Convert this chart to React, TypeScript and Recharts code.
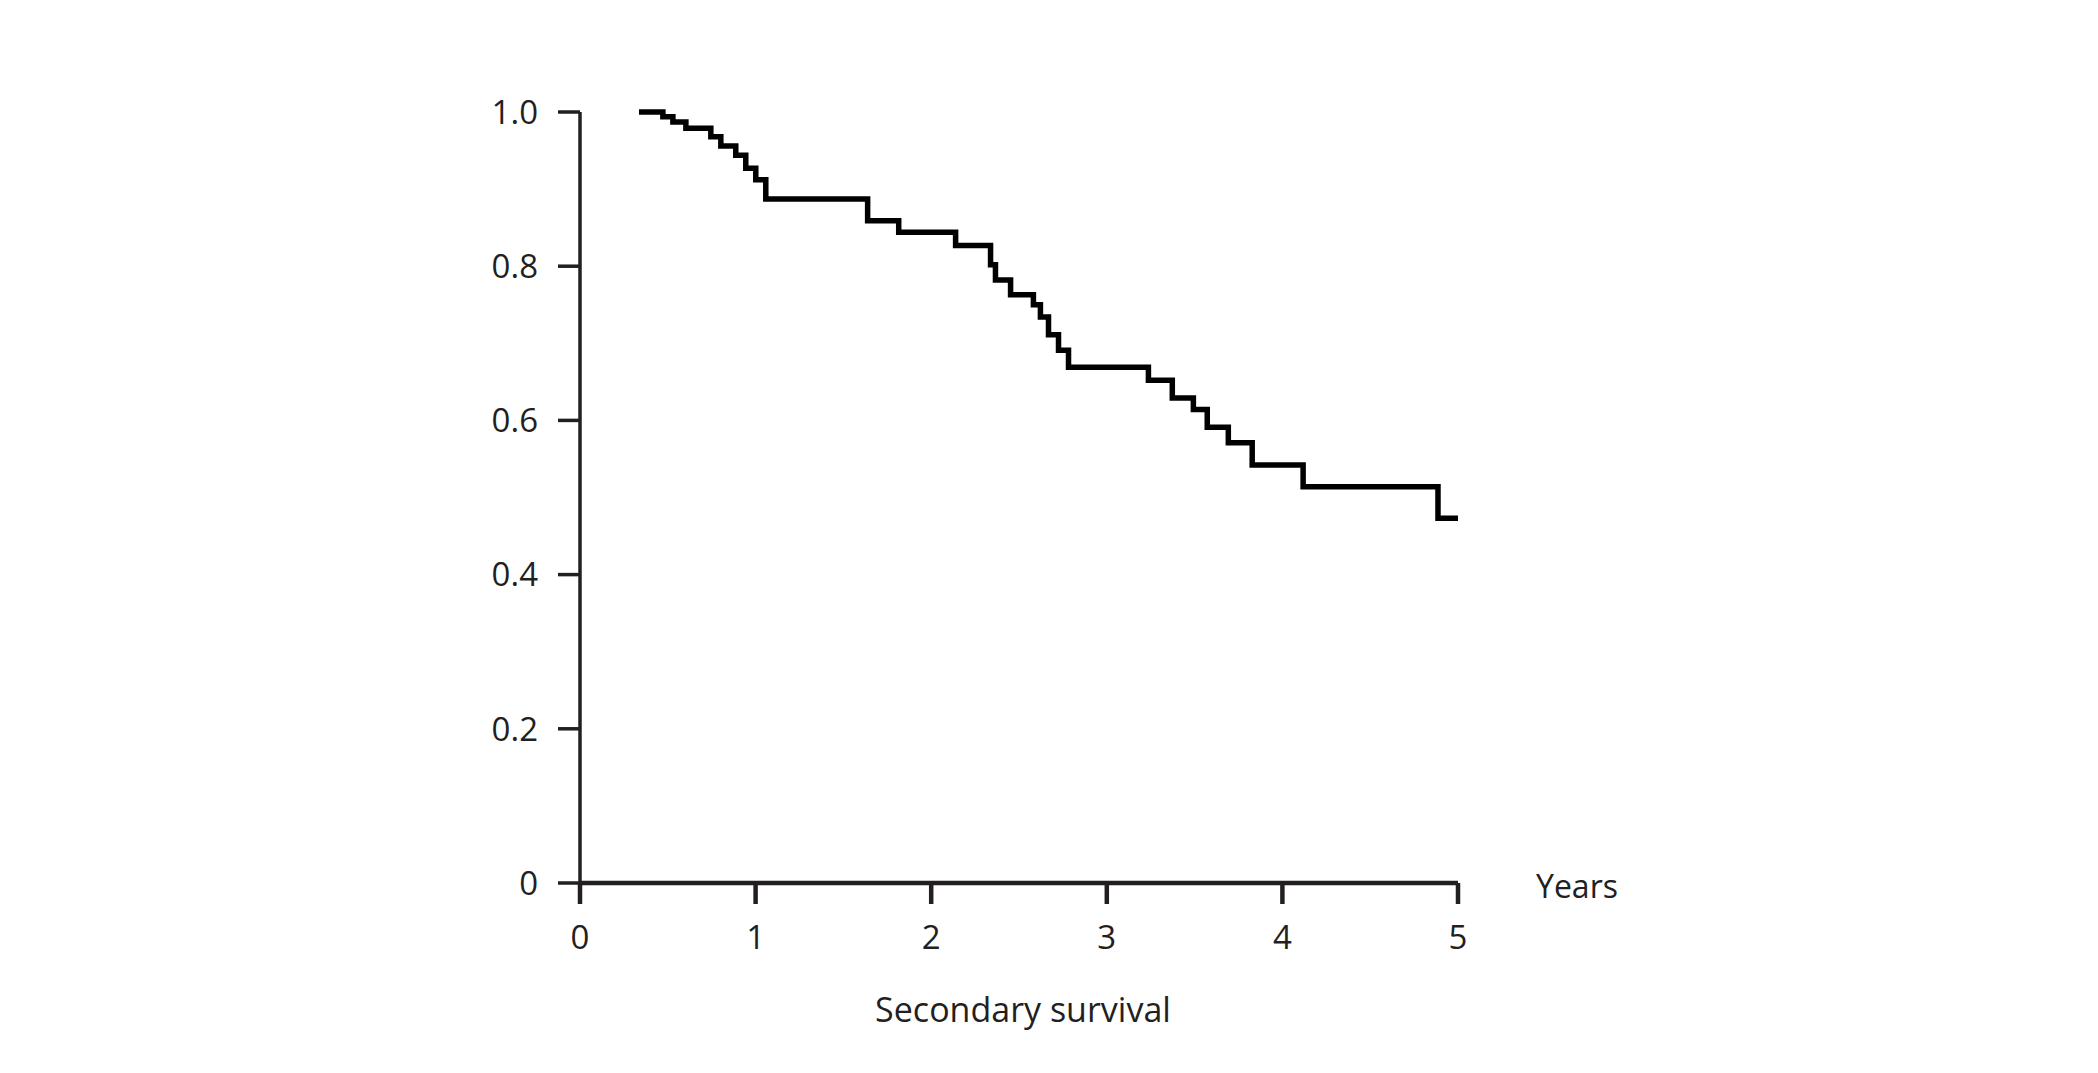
import { LineChart, Line, XAxis, YAxis } from "recharts"

// Kaplan-Meier style survival steps
const years = [
  0.336, 0.472, 0.529, 0.603, 0.745, 0.802, 0.887, 0.944, 1.001, 1.058,
  1.638, 1.815, 2.139, 2.338, 2.366, 2.452, 2.582, 2.622, 2.668, 2.725,
  2.782, 3.237, 3.373, 3.493, 3.572, 3.692, 3.828, 4.118, 4.886, 5.0,
]
const survival = [
  1.0, 0.994, 0.987, 0.979, 0.968, 0.956, 0.944, 0.927, 0.912, 0.887,
  0.859, 0.844, 0.827, 0.802, 0.782, 0.763, 0.75, 0.734, 0.711, 0.691,
  0.669, 0.652, 0.629, 0.614, 0.591, 0.571, 0.542, 0.514, 0.473, 0.473,
]

const xTicks = [0, 1, 2, 3, 4, 5]
const yTicks = [0, 0.2, 0.4, 0.6, 0.8, 1.0]

const chartData = years.map((t, i) => ({ t, s: survival[i] }))

const ink = "#231f20"
const font = "'Open Sans', sans-serif"

export default function App() {
  return (
    <div style={{ position: "absolute", left: 0, top: 0, width: 2098, height: 1073, background: "#fff" }}>
      <LineChart
        width={2098}
        height={1073}
        data={chartData}
        margin={{ top: 112, right: 640, bottom: 130, left: 0 }}
      >
        <XAxis
          dataKey="t"
          type="number"
          domain={[0, 5]}
          ticks={xTicks}
          height={60}
          stroke={ink}
          strokeWidth={4.5}
          tickSize={21}
          tickMargin={22}
          tick={{ fill: ink, fontSize: 33, fontFamily: font, fontWeight: 400 }}
        />
        <YAxis
          type="number"
          domain={[0, 1]}
          ticks={yTicks}
          width={580}
          stroke={ink}
          strokeWidth={3.5}
          tickSize={22}
          tickMargin={20}
          tickFormatter={(v: number) => (v === 0 ? "0" : v.toFixed(1))}
          tick={{ fill: ink, fontSize: 33, fontFamily: font, fontWeight: 400 }}
        />
        <Line
          dataKey="s"
          type="stepAfter"
          stroke="#000"
          strokeWidth={5.5}
          dot={false}
          isAnimationActive={false}
        />
      </LineChart>
      <svg
        width={2098}
        height={1073}
        style={{ position: "absolute", left: 0, top: 0, pointerEvents: "none" }}
      >
        <text x={1536} y={898} fill={ink} fontSize={32} fontFamily={font}>
          Years
        </text>
        <text x={1023} y={1022} fill={ink} fontSize={34} fontFamily={font} textAnchor="middle">
          Secondary survival
        </text>
      </svg>
    </div>
  )
}
